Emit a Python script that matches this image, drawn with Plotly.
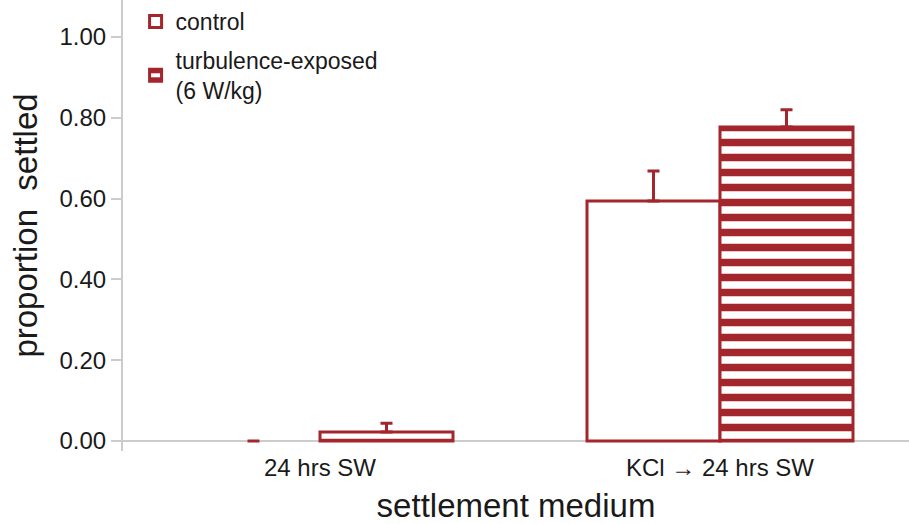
import plotly.graph_objects as go

categories = ["24 hrs SW", "KCl → 24 hrs SW"]
control_values = [0.0, 0.594]
control_err = [0.0, 0.074]
turb_values = [0.022, 0.777]
turb_err = [0.022, 0.043]

RED = "#a3262c"
FONT = "Liberation Sans, Arial, sans-serif"
TXT = "#1a1a1a"
ERR = dict(type="data", arrayminus=[0, 0], symmetric=False, color=RED, thickness=3, width=6)

fig = go.Figure()
# control bars (zero-height bar drawn without outline, only its error cap)
fig.add_trace(go.Bar(
    x=categories, y=control_values, name="control", showlegend=False,
    legendgroup="c", offsetgroup="a",
    marker=dict(color="white", line=dict(color=RED, width=[0, 3])),
    error_y=dict(array=control_err, **ERR),
))
# legend entry for control
fig.add_trace(go.Bar(
    x=categories, y=[None, None], name="control", showlegend=True,
    legendgroup="c", offsetgroup="a", hoverinfo="skip",
    marker=dict(color="white", line=dict(color=RED, width=3)),
))
fig.add_trace(go.Bar(
    x=categories, y=turb_values, name="turbulence-exposed<br>(6 W/kg)",
    legendgroup="t", offsetgroup="b",
    marker=dict(color="white", line=dict(color=RED, width=3),
                pattern=dict(shape="-", fgcolor=RED, bgcolor="white", fgopacity=1,
                             size=15, solidity=0.5)),
    error_y=dict(array=turb_err, **ERR),
))

fig.update_layout(
    width=909, height=524,
    margin=dict(l=123, r=0, t=0, b=73),
    paper_bgcolor="white", plot_bgcolor="white",
    barmode="group", bargap=0.335, bargroupgap=0,
    font=dict(family=FONT, color=TXT, size=24),
    showlegend=True,
    legend=dict(x=0.016, y=1.0, xanchor="left", yanchor="top",
                bgcolor="rgba(0,0,0,0)", font=dict(size=23, color=TXT),
                traceorder="grouped", tracegroupgap=6, itemwidth=30),
)
fig.update_xaxes(
    range=[-0.4925, 1.4725], showline=False, ticks="", showgrid=False, automargin=False,
    tickfont=dict(size=24, color=TXT),
    title=dict(text="settlement medium", font=dict(size=33, color=TXT), standoff=19),
)
fig.update_yaxes(
    range=[-0.0248, 1.0916], showgrid=False, automargin=False,
    showline=True, linecolor="#cccccc", linewidth=2,
    ticks="outside", tickcolor="#cccccc", ticklen=10, tickwidth=1.5,
    tickvals=[0, 0.2, 0.4, 0.6, 0.8, 1.0], tickformat=".2f",
    tickfont=dict(size=24, color=TXT),
    zeroline=True, zerolinecolor="#cccccc", zerolinewidth=2,
    title=dict(text="proportion  settled", font=dict(size=33, color=TXT), standoff=12),
)

fig.write_html("out.html", config={"displayModeBar": False},
               post_script="document.body.style.margin='0';")
